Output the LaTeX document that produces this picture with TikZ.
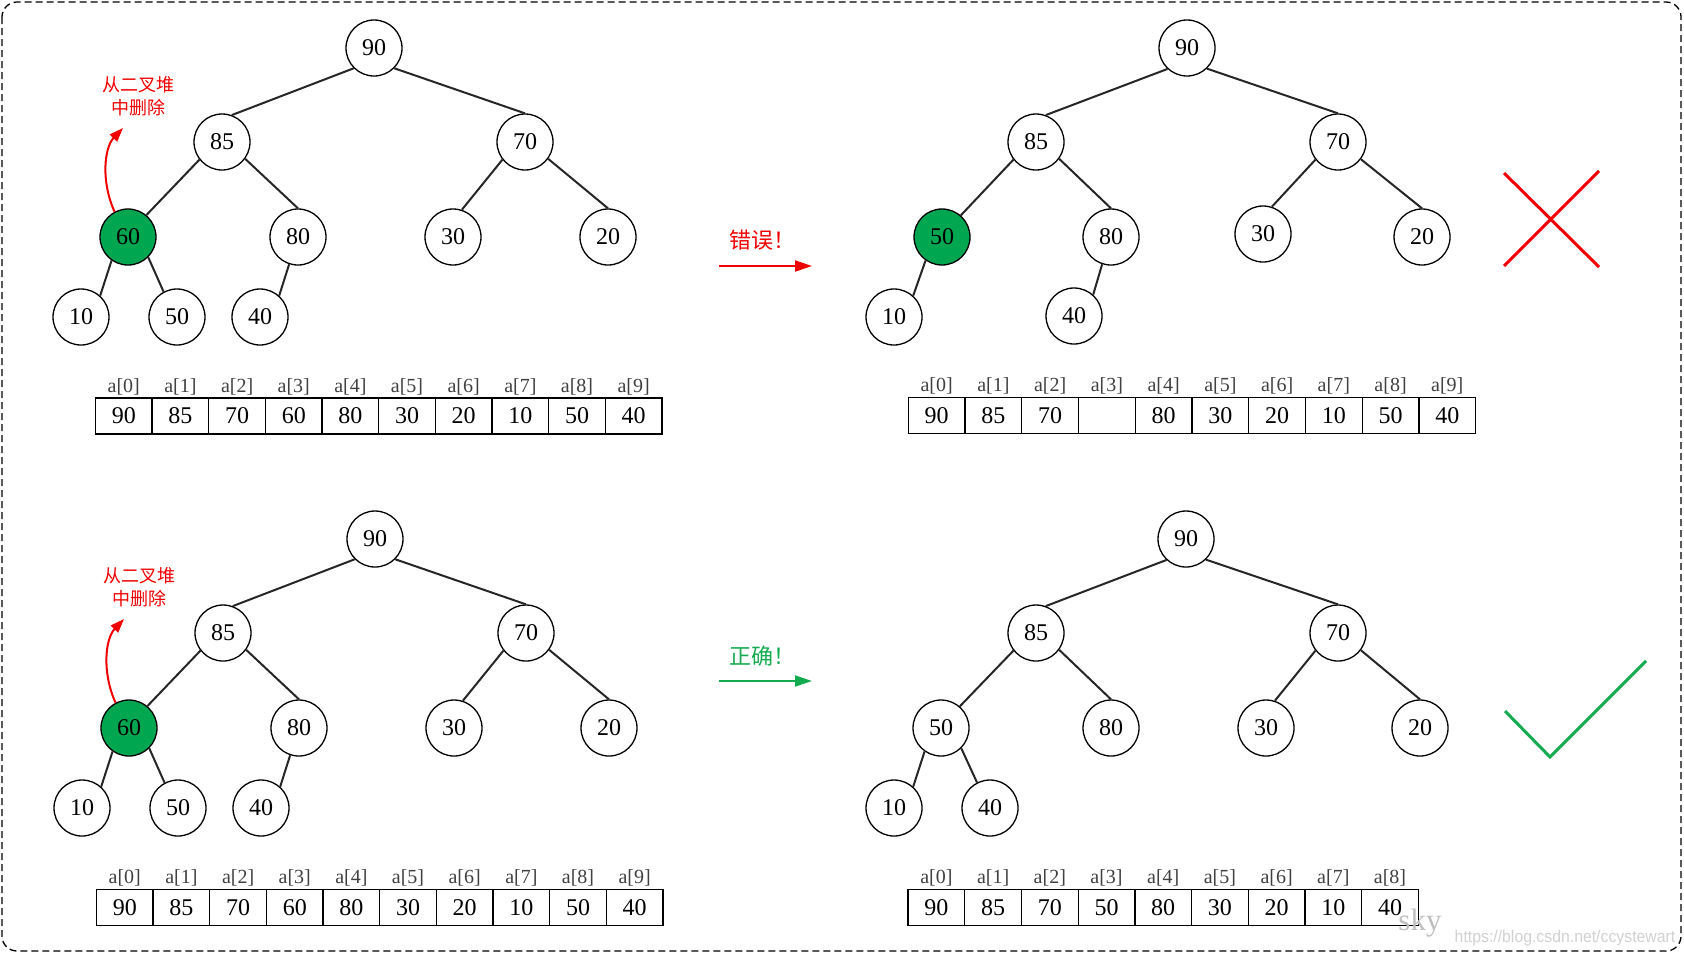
\documentclass[tikz,border=0pt]{standalone}
\usepackage{fontspec}
\setmainfont{Liberation Serif}
\newfontfamily\cjk{Noto Sans CJK SC}
\newfontfamily\urlfont{Liberation Sans}
\usetikzlibrary{arrows.meta}

\definecolor{heapgreen}{RGB}{0,166,80}
\definecolor{okgreen}{RGB}{20,170,80}
\definecolor{badred}{RGB}{240,0,0}

\begin{document}
\begin{tikzpicture}[x=0.5pt,y=-0.5pt,
	key/.style={circle,draw,line width=0.65pt,minimum size=28pt,inner sep=0pt,font=\fontsize{12}{14}\selectfont},
	picked/.style={key,fill=heapgreen},
	branch/.style={line width=1pt,black!85},
	cell/.style={draw,line width=0.65pt,minimum width=28.35pt,minimum height=18pt,inner sep=0pt,font=\fontsize{12}{14}\selectfont},
	idx/.style={font=\fontsize{10}{12}\selectfont,text=black!75},
	note/.style={font=\cjk\fontsize{9}{11.5}\selectfont,align=center},
	verdict/.style={font=\cjk\fontsize{11}{13}\selectfont},
	flow/.style={line width=1pt,-{Triangle[length=8.5pt,width=5.5pt]}},
	lift/.style={line width=1pt,-{Triangle[length=7pt,width=5pt]}}]
	\useasboundingbox (0,0) rectangle (1684,954);
	\draw[dash pattern=on 3.5pt off 2pt,line width=0.65pt,rounded corners=7.5pt] (2,2) rectangle (1681,951);

	% top left: 60 is taken out
	\node[key]    (A90) at (374,48)  {90};
	\node[key]    (A85) at (222,142) {85};
	\node[key]    (A70) at (525,142) {70};
	\node[picked] (A60) at (128,237) {60};
	\node[key]    (A80) at (298,237) {80};
	\node[key]    (A30) at (453,237) {30};
	\node[key]    (A20) at (608,237) {20};
	\node[key]    (A10) at (81,317)  {10};
	\node[key]    (A50) at (177,317) {50};
	\node[key]    (A40) at (260,317) {40};
	\draw[branch]
	(A90.225) edge (A85.70)
	(A90.315) edge (A70.90)
	(A85.218) edge (A60.50)
	(A85.324) edge (A80.90)
	(A70.218) edge (A30.72)
	(A70.324) edge (A20.90)
	(A60.235) edge (A10.48)
	(A60.315) edge (A50.118)
	(A80.252) edge (A40.48);
	\node[note,text=badred] (Anote) at (138,96) {从二叉堆\\中删除};
	\coordinate (Atip) at (123,128);
	\draw[lift,badred] (A60.118) .. controls (101,182) and (104,148) .. (Atip);
	\foreach \v [count=\i from 0] in {90,85,70,60,80,30,20,10,50,40}{
		\node[cell] (Acell\i) at ({123.8+56.65*\i},416) {\v};
		\node[idx]  (Aidx\i)  at ({123.8+56.65*\i},387) {a[\i]};
	}

	% top right: last leaf moved up
	\node[key]    (B90) at (1187,48)  {90};
	\node[key]    (B85) at (1036,142) {85};
	\node[key]    (B70) at (1338,142) {70};
	\node[picked] (B50) at (942,237)  {50};
	\node[key]    (B80) at (1111,237) {80};
	\node[key]    (B30) at (1263,234) {30};
	\node[key]    (B20) at (1422,237) {20};
	\node[key]    (B10) at (894,317)  {10};
	\node[key]    (B40) at (1074,316) {40};
	\draw[branch]
	(B90.227) edge (B85.70)
	(B90.314) edge (B70.90)
	(B85.218) edge (B50.49)
	(B85.324) edge (B80.90)
	(B70.218) edge (B30.72)
	(B70.323) edge (B20.90)
	(B50.235) edge (B10.48)
	(B80.252) edge (B40.48);
	\foreach \v [count=\i from 0] in {90,85,70,{},80,30,20,10,50,40}{
		\node[cell] (Bcell\i) at ({936.7+56.73*\i},415.5) {\v};
		\node[idx]  (Bidx\i)  at ({936.7+56.73*\i},386) {a[\i]};
	}
	\coordinate (Bfrom) at (719,266);
	\coordinate (Bto) at (812,266);
	\draw[flow,badred] (Bfrom) -- (Bto);
	\node[verdict,text=badred] (Bnote) at (762,240) {错误！};
	\draw[badred,line width=1.5pt] (1504,266) -- (1599,171) (1504,173) -- (1599,267);

	% bottom left
	\node[key]    (C90) at (375,539) {90};
	\node[key]    (C85) at (223,633) {85};
	\node[key]    (C70) at (526,633) {70};
	\node[picked] (C60) at (129,728) {60};
	\node[key]    (C80) at (299,728) {80};
	\node[key]    (C30) at (454,728) {30};
	\node[key]    (C20) at (609,728) {20};
	\node[key]    (C10) at (82,808)  {10};
	\node[key]    (C50) at (178,808) {50};
	\node[key]    (C40) at (261,808) {40};
	\draw[branch]
	(C90.225) edge (C85.70)
	(C90.315) edge (C70.90)
	(C85.218) edge (C60.50)
	(C85.324) edge (C80.90)
	(C70.218) edge (C30.72)
	(C70.324) edge (C20.90)
	(C60.235) edge (C10.48)
	(C60.315) edge (C50.118)
	(C80.252) edge (C40.48);
	\node[note,text=badred] (Cnote) at (139,587) {从二叉堆\\中删除};
	\coordinate (Ctip) at (124,619);
	\draw[lift,badred] (C60.118) .. controls (102,673) and (105,639) .. (Ctip);
	\foreach \v [count=\i from 0] in {90,85,70,60,80,30,20,10,50,40}{
		\node[cell] (Ccell\i) at ({124.8+56.65*\i},907.5) {\v};
		\node[idx]  (Cidx\i)  at ({124.8+56.65*\i},878) {a[\i]};
	}

	% bottom right: 40 sifted down under 50
	\node[key] (D90) at (1186,539) {90};
	\node[key] (D85) at (1036,633) {85};
	\node[key] (D70) at (1338,633) {70};
	\node[key] (D50) at (941,728)  {50};
	\node[key] (D80) at (1111,728) {80};
	\node[key] (D30) at (1266,728) {30};
	\node[key] (D20) at (1420,728) {20};
	\node[key] (D10) at (894,808)  {10};
	\node[key] (D40) at (990,808)  {40};
	\draw[branch]
	(D90.227) edge (D85.70)
	(D90.314) edge (D70.90)
	(D85.218) edge (D50.49)
	(D85.324) edge (D80.90)
	(D70.218) edge (D30.72)
	(D70.323) edge (D20.90)
	(D50.235) edge (D10.48)
	(D50.315) edge (D40.117);
	\foreach \v [count=\i from 0] in {90,85,70,50,80,30,20,10,40}{
		\node[cell] (Dcell\i) at ({936.4+56.7*\i},907.5) {\v};
		\node[idx]  (Didx\i)  at ({936.4+56.7*\i},878) {a[\i]};
	}
	\coordinate (Dfrom) at (719,681);
	\coordinate (Dto) at (812,681);
	\draw[flow,okgreen] (Dfrom) -- (Dto);
	\node[verdict,text=okgreen] (Dnote) at (762,656) {正确！};
	\draw[okgreen,line width=1.5pt] (1505,711) -- (1550,757) -- (1646,661);

	\node[anchor=base,text=black!25,font=\fontsize{15.5}{18}\selectfont] (mark) at (1420,930) {sky};
	\node[anchor=base,text=black!18,font=\urlfont\fontsize{8.5}{10}\selectfont,xscale=0.93] (url) at (1565,942) {https://blog.csdn.net/ccystewart};
\end{tikzpicture}
\end{document}
